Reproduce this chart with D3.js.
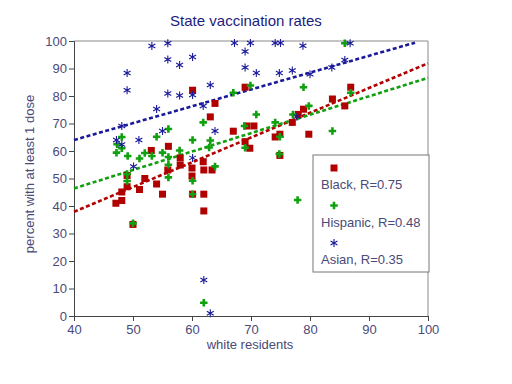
<!DOCTYPE html>
<html>
<head>
<meta charset="utf-8">
<script src="https://cdn.jsdelivr.net/npm/d3@7"></script>
<style>
  body { margin: 0; background: #fff; }
  text { font-family: "Liberation Sans", Arial, sans-serif; }
</style>
</head>
<body>
<svg id="chart" width="512" height="384"></svg>
<script>
// scatter of state vaccination rates vs share of white residents

var blackX = [49.0,48.1,48.1,47.1,49.0,51.1,52.0,54.0,55.0,50.0,53.1,56.0,58.0,58.0,55.9,60.0,60.0,61.9,62.0,63.4,60.1,62.0,62.0,60.1,69.0,63.9,63.1,67.0,69.3,70.5,69.0,69.8,74.1,74.9,77.0,78.0,78.9,79.8,74.9,83.8,85.9,86.9];
var blackY = [51.1,45.1,42.0,41.0,47.0,46.0,50.0,48.0,44.3,33.3,60.2,61.7,57.5,54.9,53.1,53.8,50.9,56.1,53.1,53.1,44.3,44.3,38.2,82.1,83.2,77.3,72.4,67.2,69.1,69.1,63.4,61.0,65.1,66.1,70.4,73.3,75.2,66.1,58.4,78.9,76.4,83.2];

var hispX = [56.0,54.0,48.1,47.3,48.1,47.2,49.1,51.1,52.0,53.2,55.0,56.0,56.0,56.0,57.9,60.1,61.9,49.0,49.0,60.1,60.1,50.0,69.9,67.0,78.9,70.9,68.9,74.1,77.1,79.8,63.1,62.9,74.9,69.0,74.8,63.9,77.9,85.9,86.9,83.8,62.0];
var hispY = [68.0,65.2,65.1,62.5,61.0,59.4,58.2,57.3,59.3,58.2,59.4,57.8,55.0,50.4,60.2,64.0,70.4,51.6,49.1,49.2,44.3,33.7,83.8,81.2,83.2,73.3,69.1,70.4,73.3,76.4,63.8,61.3,65.2,61.2,58.9,54.4,42.2,99.2,81.2,67.3,4.8];

var asianX = [53.2,55.9,55.9,57.9,60.1,49.0,49.0,55.9,57.9,60.1,63.1,67.2,69.9,69.0,69.0,70.9,74.1,75.0,74.8,77.0,78.8,86.8,80.0,83.7,85.9,54.0,48.1,47.2,48.1,51.0,55.0,50.1,60.1,61.9,63.9,77.8,62.0,63.1];
var asianY = [98.2,99.2,93.3,91.3,94.2,88.4,82.1,80.9,80.2,80.4,84.0,99.3,99.3,96.2,90.4,88.4,99.3,99.3,88.4,89.3,98.3,99.2,87.9,90.4,93.1,75.3,69.1,64.0,62.4,64.0,67.3,54.4,57.5,76.4,67.3,72.5,13.1,1.0];

// fitted lines
var blackFit = [[40,37.9],[100,91.9]];
var hispFit = [[40,46.4],[100,86.6]];
var asianFit = [[40,64.0],[97.8,99.4]];

var xTicks = [40,50,60,70,80,90,100];
var yTicks = [0,10,20,30,40,50,60,70,80,90,100];
var legendLabels = ["Black, R=0.75","Hispanic, R=0.48","Asian, R=0.35"];

var red = "#b00000", green = "#10a010", blue = "#1a1a9a", txt = "#4a4a78";

var svg = d3.select("#chart"),
    margin = {top: 41, right: 84, bottom: 68, left: 74},
    width = 512 - margin.left - margin.right,
    height = 384 - margin.top - margin.bottom,
    g = svg.append("g").attr("transform", "translate(" + margin.left + "," + margin.top + ")");

var x = d3.scaleLinear().domain([40,100]).range([0, width]);
var y = d3.scaleLinear().domain([0,100]).range([height, 0]);

// frame on top and right
g.append("path")
    .attr("d", "M0,0H" + width + "V" + height)
    .attr("fill", "none").attr("stroke", "#8a8a8a").attr("stroke-width", 1);

var xAxis = g.append("g").attr("transform", "translate(0," + height + ")")
    .call(d3.axisBottom(x).tickValues(xTicks).tickSize(5).tickPadding(4));
var yAxis = g.append("g")
    .call(d3.axisLeft(y).tickValues(yTicks).tickSize(5).tickPadding(2));

[xAxis, yAxis].forEach(function(a) {
    a.select(".domain").attr("stroke", "#444");
    a.selectAll(".tick line").attr("stroke", "#444");
    a.selectAll(".tick text").attr("fill", txt).style("font-size", "13px")
        .style("font-family", "'Liberation Sans', Arial, sans-serif");
});

// dashed fit lines
var line = d3.line().x(function(d) { return x(d[0]) }).y(function(d) { return y(d[1]) });
[[blackFit, red], [hispFit, green], [asianFit, blue]].forEach(function(f) {
    g.append("path").datum(f[0]).attr("d", line)
        .attr("fill", "none").attr("stroke", f[1])
        .attr("stroke-width", 2.6).attr("stroke-dasharray", "4,2.5");
});

function zip(a, b) { return a.map(function(v, i) { return [v, b[i]] }) }

// marker drawers
function square(sel, s) {
    sel.append("rect").attr("x", -s/2).attr("y", -s/2).attr("width", s).attr("height", s).attr("fill", red);
}
function plus(sel, s) {
    sel.append("path").attr("d", "M" + (-s/2) + ",0H" + (s/2) + "M0," + (-s/2) + "V" + (s/2))
        .attr("stroke", green).attr("stroke-width", 2.6).attr("fill", "none");
}
function star(sel, s) {
    var r = s/2, dx = r * Math.cos(Math.PI/6), dy = r * Math.sin(Math.PI/6);
    sel.append("path")
        .attr("d", "M0," + (-r) + "V" + r + "M" + (-dx) + "," + (-dy) + "L" + dx + "," + dy + "M" + (-dx) + "," + dy + "L" + dx + "," + (-dy))
        .attr("stroke", blue).attr("stroke-width", 1.1).attr("fill", "none");
}

function scatter(data, draw, s) {
    g.append("g").selectAll("g")
        .data(data)
        .enter().append("g")
        .attr("transform", function(d) { return "translate(" + x(d[0]) + "," + y(d[1]) + ")" })
        .each(function() { draw(d3.select(this), s) });
}

scatter(zip(blackX, blackY), square, 7);
scatter(zip(hispX, hispY), plus, 7.5);
scatter(zip(asianX, asianY), star, 8);

// title and axis labels
svg.append("text").attr("x", 246).attr("y", 26).attr("text-anchor", "middle")
    .attr("fill", "#1c1c7c").style("font-size", "15px").text("State vaccination rates");
svg.append("text").attr("x", 250).attr("y", 349).attr("text-anchor", "middle")
    .attr("fill", txt).style("font-size", "13px").text("white residents");
svg.append("text").attr("transform", "translate(34,174) rotate(-90)")
    .attr("text-anchor", "middle").attr("fill", txt).style("font-size", "13px")
    .text("percent with at least 1 dose");

// legend box
var lg = svg.append("g").attr("transform", "translate(313,155)");
lg.append("rect").attr("width", 116).attr("height", 117)
    .attr("fill", "#fff").attr("stroke", "#777").attr("stroke-width", 1);
var drawers = [square, plus, star], sizes = [7, 7.5, 8];
legendLabels.forEach(function(t, i) {
    var row = lg.append("g").attr("transform", "translate(0," + (i * 37.5) + ")");
    var m = row.append("g").attr("transform", "translate(21,13)");
    drawers[i](m, sizes[i]);
    row.append("text").attr("x", 8).attr("y", 34).attr("fill", txt)
        .style("font-size", "13px").text(t);
});
</script>
</body>
</html>
